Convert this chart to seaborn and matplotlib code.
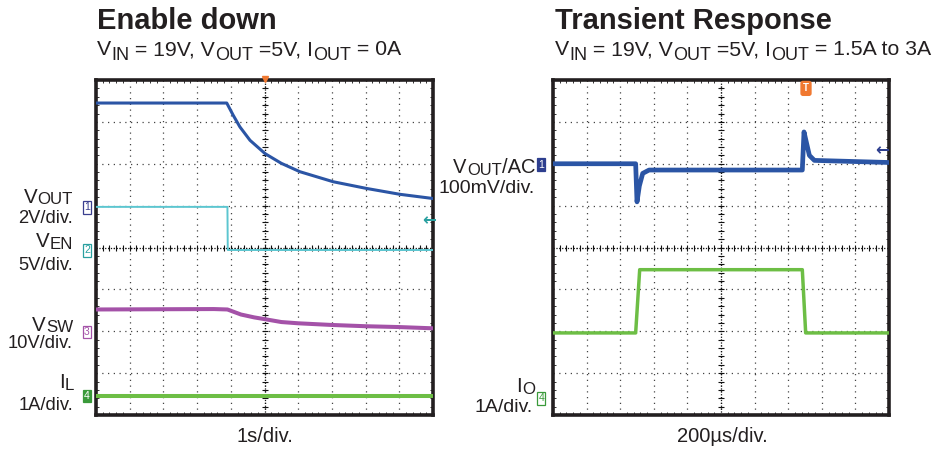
import numpy as np
import pandas as pd
import matplotlib
matplotlib.use("Agg")
import matplotlib.pyplot as plt
import seaborn as sns

# === Data (scope divisions: x 0..10, y 0..8) ===
# Enable down
vout_t = [0, 3.88, 4.07, 4.27, 4.57, 5.02, 5.5, 6.05, 7.04, 8.03, 9.02, 10]
vout_v = [7.45, 7.45, 7.16, 6.88, 6.56, 6.24, 6.01, 5.81, 5.57, 5.41, 5.27, 5.17]
ven_t = [0, 3.9, 3.91, 10]
ven_v = [4.97, 4.97, 3.94, 3.94]
vsw_t = [0, 3.5, 3.9, 4.3, 4.7, 5.0, 5.5, 6.0, 7.0, 8.0, 9.0, 10]
vsw_v = [2.52, 2.53, 2.52, 2.40, 2.33, 2.29, 2.22, 2.19, 2.15, 2.12, 2.10, 2.07]
il_t = [0, 10]
il_v = [0.46, 0.46]

# Transient response
vac_t = [0, 2.46, 2.50, 2.57, 2.67, 2.86, 7.42, 7.47, 7.55, 7.63, 7.78, 10]
vac_v = [6.0, 6.0, 5.09, 5.47, 5.77, 5.85, 5.85, 6.76, 6.48, 6.2, 6.08, 6.03]
io_t = [0, 2.46, 2.58, 7.42, 7.52, 10]
io_v = [1.96, 1.96, 3.47, 3.47, 1.96, 1.96]

BLUE = "#2b55a5"
CYAN = "#5cc6d0"
PURPLE = "#a452a8"
GREEN = "#6dbe45"
ORANGE = "#f07830"
INK = "#231f20"

W, H = 940, 451

sns.set_theme(style="white")
plt.rcParams["font.family"] = ["Liberation Sans", "DejaVu Sans"]

fig = plt.figure(figsize=(W / 100, H / 100), dpi=100)
renderer = fig.canvas.get_renderer()


def add_axes(x0, x1, y0, y1):
    ax = fig.add_axes([x0 / W, 1 - y1 / H, (x1 - x0) / W, (y1 - y0) / H])
    ax.set_xlim(0, 10)
    ax.set_ylim(0, 8)
    ax.set_xticks(range(11))
    ax.set_yticks(range(9))
    ax.set_xticks(np.arange(0, 10.01, 0.2), minor=True)
    ax.set_yticks(np.arange(0, 8.01, 0.2), minor=True)
    ax.set_xticklabels([])
    ax.set_yticklabels([])
    ax.tick_params(which="major", length=0)
    ax.tick_params(which="minor", direction="in", length=2.5, width=0.7,
                   color="#333333", bottom=True, top=True, left=True, right=True)
    ax.grid(True, which="major", ls=(0, (1, 3.6)), color="#444444", lw=0.9)
    ax.axvline(5, ls=(0, (1, 1.3)), color="#111111", lw=0.9, zorder=1)
    ax.axhline(4, ls=(0, (1, 1.3)), color="#111111", lw=0.9, zorder=1)
    ticks_y = np.arange(0, 8.01, 0.2)
    ticks_x = np.arange(0, 10.01, 0.2)
    ax.plot([5] * len(ticks_y), ticks_y, ls="none", marker="_", ms=5, mew=0.8, color="#111111", zorder=1)
    ax.plot(ticks_x, [4] * len(ticks_x), ls="none", marker="|", ms=5, mew=0.8, color="#111111", zorder=1)
    for sp in ax.spines.values():
        sp.set_linewidth(2.6)
        sp.set_color(INK)
        sp.set_visible(True)
    return ax


def trace(ax, t, v, color, lw):
    df = pd.DataFrame({"t": t, "v": v})
    sns.lineplot(data=df, x="t", y="v", ax=ax, color=color, lw=lw,
                 estimator=None, sort=False, zorder=3)
    ax.set_xlabel("")
    ax.set_ylabel("")


def rich(x, y, parts, size, ha="left", weight="normal", sub_scale=0.8, drop=0.25):
    # x, y: reference pixel coords (top-left origin), y is the baseline
    arts = []
    for s, sub in parts:
        fs = size * sub_scale if sub else size
        t = fig.text(0, 0, s, fontsize=fs, va="baseline", ha="left",
                     color=INK, weight=weight)
        arts.append((t, sub))
    widths = [t.get_window_extent(renderer).width for t, _ in arts]
    total = sum(widths)
    if ha == "right":
        x0 = x - total
    elif ha == "center":
        x0 = x - total / 2
    else:
        x0 = x
    for (t, sub), w in zip(arts, widths):
        dy = size * drop * 100 / 72 if sub else 0
        t.set_position((x0 / W, 1 - (y + dy) / H))
        x0 += w


def chan_box(ax, x, y, label, color, filled=False):
    ax.text(x, y, label, fontsize=7.5, ha="center", va="center",
            color="white" if filled else color, clip_on=False, zorder=5,
            bbox=dict(boxstyle="square,pad=0.12", fc=color if filled else "white",
                      ec=color, lw=0.9))


# === Left panel: Enable down ===
ax1 = add_axes(96, 433, 80, 415)
trace(ax1, vout_t, vout_v, BLUE, 2.2)
trace(ax1, ven_t, ven_v, CYAN, 1.4)
trace(ax1, vsw_t, vsw_v, PURPLE, 2.9)
trace(ax1, il_t, il_v, GREEN, 2.9)
chan_box(ax1, -0.27, 4.96, "1", "#3a3f8f")
chan_box(ax1, -0.27, 3.93, "2", "#2aa0a0")
chan_box(ax1, -0.27, 1.98, "3", PURPLE)
chan_box(ax1, -0.27, 0.45, "4", "#3a9a3a", filled=True)
ax1.plot([5], [8.02], marker="v", ms=5, color=ORANGE, clip_on=False, zorder=6)
ax1.text(9.88, 4.65, "\u2190", fontsize=12, color="#2aa0a0", ha="center", va="center",
         family="DejaVu Sans", weight="bold", zorder=5)

# === Right panel: Transient Response ===
ax2 = add_axes(553, 889, 80, 415)
trace(ax2, vac_t, vac_v, BLUE, 3.4)
trace(ax2, io_t, io_v, GREEN, 2.5)
chan_box(ax2, -0.35, 5.98, "1", "#2e3f8f", filled=True)
chan_box(ax2, -0.35, 0.40, "4", "#3a9a3a")
ax2.text(7.53, 7.8, "T", fontsize=7, color="white", weight="bold", ha="center", va="center",
         zorder=6, bbox=dict(boxstyle="round,pad=0.2", fc=ORANGE, ec=ORANGE))
ax2.text(9.8, 6.32, "\u2190", fontsize=12, color="#2e3f8f", ha="center", va="center",
         family="DejaVu Sans", weight="bold", zorder=5)

# === Titles ===
rich(97, 29, [("Enable down", False)], 21, weight="bold")
rich(97, 55, [("V", False), ("IN", True), (" = 19V, V", False), ("OUT", True),
              (" =5V, I", False), ("OUT", True), (" = 0A", False)], 15.3, drop=0.22, sub_scale=0.85)
rich(555, 29, [("Transient Response", False)], 21, weight="bold")
rich(555, 55, [("V", False), ("IN", True), (" = 19V, V", False), ("OUT", True),
               (" =5V, I", False), ("OUT", True), (" = 1.5A to 3A", False)], 15.3, drop=0.22, sub_scale=0.85)

# === Channel labels ===
LBL = 13.2
SYM = 14.8
rich(73, 203, [("V", False), ("OUT", True)], SYM, ha="right", sub_scale=0.82, drop=0.05)
rich(73, 223, [("2V/div.", False)], LBL, ha="right")
rich(73, 247, [("V", False), ("EN", True)], SYM, ha="right", sub_scale=0.82, drop=0.12)
rich(73, 270, [("5V/div.", False)], LBL, ha="right")
rich(73, 331, [("V", False), ("SW", True)], SYM, ha="right", sub_scale=0.82, drop=0.03)
rich(73, 348, [("10V/div.", False)], LBL, ha="right")
rich(74, 388, [("I", False), ("L", True)], SYM, ha="right", sub_scale=0.82, drop=0.12)
rich(73, 410, [("1A/div.", False)], LBL, ha="right")

rich(535, 173, [("V", False), ("OUT", True), ("/AC", False)], 14.5, ha="right", sub_scale=0.82, drop=0.1)
rich(535, 193, [("100mV/div.", False)], 14, ha="right")
rich(535, 392, [("I", False), ("O", True)], SYM, ha="right", sub_scale=0.82, drop=0.12)
rich(533, 412, [("1A/div.", False)], 14, ha="right")

# === Time base labels ===
rich(265, 442, [("1s/div.", False)], 14.5, ha="center")
rich(722, 442, [("200\u00b5s/div.", False)], 14.5, ha="center")

fig.savefig("out.png", dpi=100)
